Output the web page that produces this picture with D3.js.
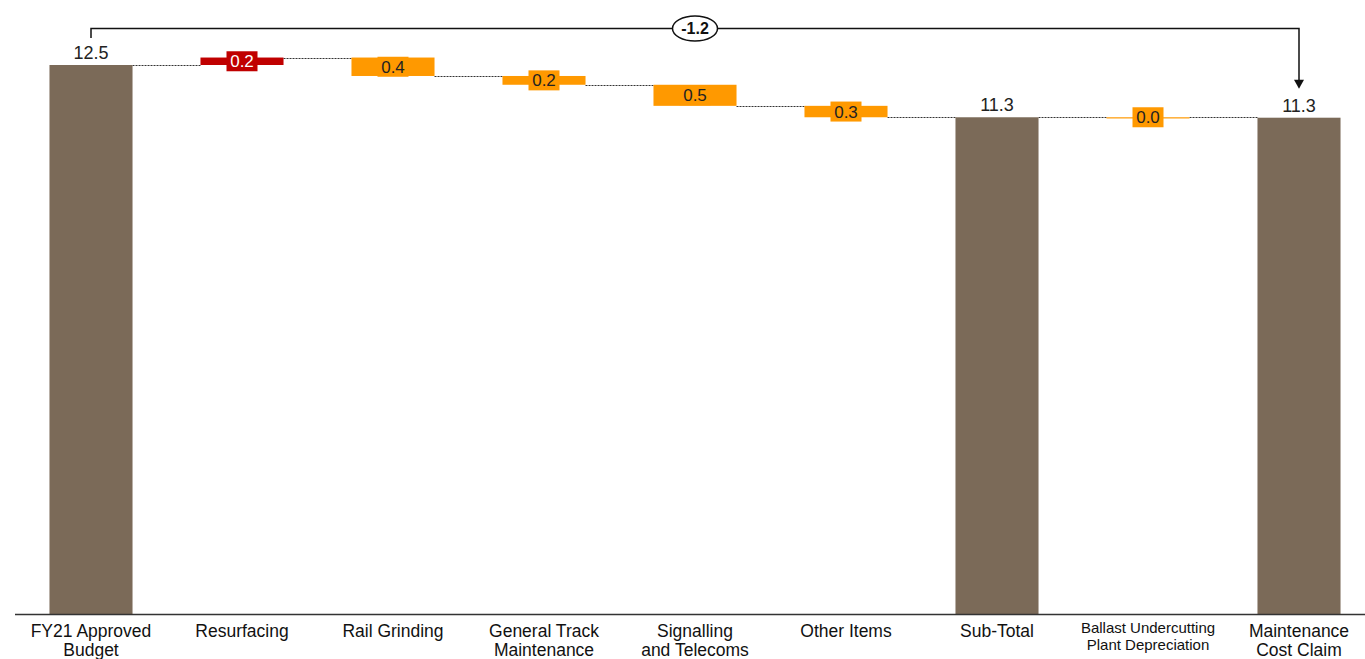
<!DOCTYPE html>
<html>
<head>
<meta charset="utf-8">
<script src="https://cdn.jsdelivr.net/npm/d3@7"></script>
<style>
  body { margin: 0; background: #fff; }
  svg { display: block; font-family: Arial, "Liberation Sans", sans-serif; }
</style>
</head>
<body>
<div class="chart"></div>
<script>
// chart data
const categories = ["FY21 Approved\nBudget", "Resurfacing", "Rail Grinding", "General Track\nMaintenance",
  "Signalling\nand Telecoms", "Other Items", "Sub-Total", "Ballast Undercutting\nPlant Depreciation",
  "Maintenance\nCost Claim"];
const kinds = ["total", "delta", "delta", "delta", "delta", "delta", "total", "delta", "total"];
const values = [12.5, 0.17, -0.42, -0.2, -0.48, -0.26, 11.31, 0.0, 11.3];
const bridgeLabel = "-1.2";

const width = 1365, height = 659;
const baseY = 614;

const svg = d3.select(".chart").append("svg")
  .attr("width", width)
  .attr("height", height);

const xScale = d3.scaleBand()
  .domain(categories)
  .range([15.5, 1374.5])
  .paddingInner(0.45)
  .paddingOuter(0.225);

const yScale = d3.scaleLinear()
  .domain([0, 12.5])
  .range([baseY, 65]);

// running totals -> start/end of each bar
let run = 0;
const data = categories.map((c, i) => {
  let start, end;
  if (kinds[i] === "total") { start = 0; end = values[i]; run = values[i]; }
  else { start = run; end = run + values[i]; run = end; }
  return { cat: c, kind: kinds[i], value: values[i], start, end };
});

const colour = d => d.kind === "total" ? "#7b6a58" : (d.value > 0 ? "#c00000" : "#ff9900");

// dotted connectors
svg.selectAll(".conn")
  .data(data.slice(0, -1))
  .enter().append("line")
  .attr("class", "conn")
  .attr("x1", d => xScale(d.cat) + xScale.bandwidth())
  .attr("x2", (d, i) => xScale(data[i + 1].cat))
  .attr("y1", d => Math.round(yScale(d.end)) + 0.5)
  .attr("y2", d => Math.round(yScale(d.end)) + 0.5)
  .attr("stroke", "#333")
  .attr("stroke-width", 1)
  .attr("stroke-dasharray", "2,1");

// bars
svg.selectAll(".bar")
  .data(data)
  .enter().append("rect")
  .attr("class", "bar")
  .attr("x", d => xScale(d.cat))
  .attr("width", xScale.bandwidth())
  .attr("y", d => yScale(Math.max(d.start, d.end)))
  .attr("height", d => Math.max(1.2, Math.abs(yScale(d.start) - yScale(d.end))))
  .attr("fill", colour);

// total labels above bars
svg.selectAll(".tlabel")
  .data(data.filter(d => d.kind === "total"))
  .enter().append("text")
  .attr("class", "tlabel")
  .attr("x", d => xScale(d.cat) + xScale.bandwidth() / 2)
  .attr("y", d => yScale(d.end) - 6)
  .attr("text-anchor", "middle")
  .attr("font-size", 18)
  .attr("fill", "#222")
  .text(d => d.value.toFixed(1));

// delta labels in boxes
const dl = svg.selectAll(".dlabel")
  .data(data.filter(d => d.kind === "delta"))
  .enter().append("g")
  .attr("class", "dlabel")
  .attr("transform", d => `translate(${xScale(d.cat) + xScale.bandwidth() / 2},${(yScale(d.start) + yScale(d.end)) / 2})`);

dl.append("rect")
  .attr("x", -15.5)
  .attr("y", -10)
  .attr("width", 31)
  .attr("height", 20)
  .attr("fill", colour);

dl.append("text")
  .attr("text-anchor", "middle")
  .attr("dy", "0.36em")
  .attr("font-size", 17)
  .attr("fill", d => d.value > 0 ? "#fff" : "#222")
  .text(d => Math.abs(d.value).toFixed(1));

// x axis line
svg.append("line")
  .attr("x1", 15).attr("x2", width)
  .attr("y1", baseY + 0.5).attr("y2", baseY + 0.5)
  .attr("stroke", "#333")
  .attr("stroke-width", 1.5);

// category labels
svg.selectAll(".xlabel")
  .data(categories)
  .enter().append("text")
  .attr("class", "xlabel")
  .attr("x", d => xScale(d) + xScale.bandwidth() / 2)
  .attr("y", d => d.startsWith("Ballast") ? 633 : 637)
  .attr("text-anchor", "middle")
  .attr("font-size", d => d.startsWith("Ballast") ? 15 : 17.5)
  .attr("fill", "#111")
  .each(function(d) {
    const lines = d.split("\n");
    const lh = d.startsWith("Ballast") ? 17 : 19;
    d3.select(this).selectAll("tspan")
      .data(lines)
      .enter().append("tspan")
      .attr("x", xScale(d) + xScale.bandwidth() / 2)
      .attr("dy", (l, i) => i === 0 ? 0 : lh)
      .text(l => l);
  });

// bridge arrow between first and last total
const x0 = xScale(categories[0]) + xScale.bandwidth() / 2;
const x1 = xScale(categories[categories.length - 1]) + xScale.bandwidth() / 2;
const topY = 28.5;
const arrowEnd = yScale(values[values.length - 1]) - 29;

svg.append("path")
  .attr("d", `M${x0},${yScale(data[0].end) - 27}V${topY}H${x1}V${arrowEnd - 8}`)
  .attr("fill", "none")
  .attr("stroke", "#111")
  .attr("stroke-width", 1.5);

svg.append("path")
  .attr("d", `M${x1 - 5},${arrowEnd - 9}L${x1 + 5},${arrowEnd - 9}L${x1},${arrowEnd}Z`)
  .attr("fill", "#111");

const mid = (x0 + x1) / 2;
svg.append("ellipse")
  .attr("cx", mid).attr("cy", topY)
  .attr("rx", 22.5).attr("ry", 12.5)
  .attr("fill", "#fff")
  .attr("stroke", "#111")
  .attr("stroke-width", 1.5);

svg.append("text")
  .attr("x", mid).attr("y", topY)
  .attr("dy", "0.36em")
  .attr("text-anchor", "middle")
  .attr("font-size", 16)
  .attr("font-weight", "bold")
  .attr("fill", "#111")
  .text(bridgeLabel);
</script>
</body>
</html>
